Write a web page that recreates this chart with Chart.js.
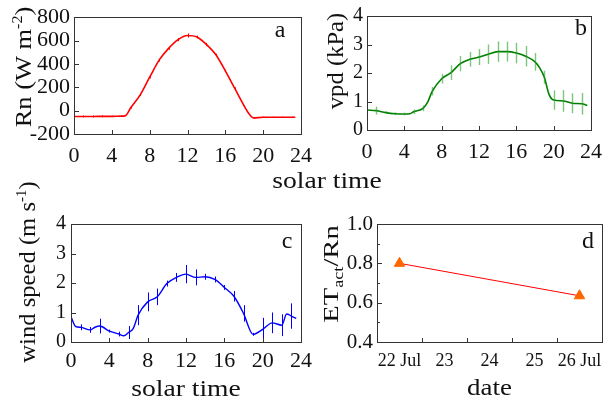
<!DOCTYPE html>
<html>
<head>
<meta charset="utf-8">
<script src="https://cdn.jsdelivr.net/npm/chart.js@4.4.1/dist/chart.umd.min.js"></script>
<style>
  html, body { margin: 0; padding: 0; background: #fff; }
  #wrap { position: relative; width: 611px; height: 401px; overflow: hidden; }
  #wrap canvas { position: absolute; left: 0; top: 0; }
</style>
</head>
<body>
<div id="wrap">
  <canvas id="cA" width="611" height="401"></canvas>
  <canvas id="cB" width="611" height="401"></canvas>
  <canvas id="cC" width="611" height="401"></canvas>
  <canvas id="cD" width="611" height="401"></canvas>
</div>
<script>
/* ---------- data ---------- */
const hourTicks = [0, 4, 8, 12, 16, 20, 24];

// a : net radiation
const rnHours  = [0, 1, 2, 3, 4, 5, 5.4, 6, 7, 8, 9, 10, 11, 12, 13, 14, 15, 16, 17, 18, 18.5, 19, 20, 21, 22, 23, 23.4];
const rnValues = [-50, -50, -50, -49, -49, -47, -45, 25, 135, 286, 432, 533, 608, 643, 630, 566, 478, 341, 190, 39, -27, -62, -57, -57, -57, -57, -57];
const rnErrors = [0, 8, 8, 8, 6, 6, 0, 8, 10, 10, 12, 12, 14, 18, 12, 14, 10, 10, 10, 8, 0, 6, 6, 6, 6, 6, 0];
const rnTicks  = [-200, 0, 200, 400, 600, 800];

// b : vapour pressure deficit
const vpdHours  = [0, 1, 2, 3, 4, 4.6, 5, 6, 6.5, 7, 8, 9, 10, 11, 12, 13, 14, 15, 16, 17, 18, 18.5, 19, 19.5, 20, 21, 22, 23, 23.6];
const vpdValues = [0.70, 0.68, 0.61, 0.57, 0.56, 0.57, 0.64, 0.76, 0.98, 1.36, 1.80, 2.01, 2.33, 2.48, 2.56, 2.66, 2.75, 2.75, 2.70, 2.59, 2.39, 2.18, 1.85, 1.25, 1.05, 1.02, 0.94, 0.92, 0.86];
const vpdErrors = [0, 0.14, 0.05, 0.05, 0.05, 0, 0.08, 0.10, 0, 0.15, 0.17, 0.26, 0.27, 0.26, 0.28, 0.34, 0.36, 0.35, 0.36, 0.36, 0.31, 0, 0.23, 0, 0.34, 0.38, 0.35, 0.38, 0];
const vpdTicks  = [0, 1, 2, 3, 4];

// c : wind speed
const windHours  = [0, 0.5, 1, 2, 2.5, 3, 4, 5, 5.5, 6, 6.5, 7, 8, 9, 10, 11, 12, 13, 14, 15, 16, 17, 18, 19, 20, 21, 22, 22.5, 23, 23.5];
const windValues = [0.85, 0.52, 0.50, 0.41, 0.50, 0.54, 0.37, 0.27, 0.21, 0.32, 0.46, 0.91, 1.36, 1.53, 1.98, 2.19, 2.30, 2.19, 2.21, 2.12, 1.85, 1.55, 0.97, 0.26, 0.43, 0.65, 0.57, 0.95, 0.88, 0.80];
const windErrors = [0, 0, 0.10, 0.10, 0, 0.25, 0.05, 0.08, 0, 0.22, 0, 0.34, 0.32, 0.28, 0.10, 0.15, 0.31, 0.27, 0.10, 0.10, 0.08, 0.18, 0.28, 0.05, 0.39, 0.35, 0.37, 0, 0.43, 0];
const windTicks  = [0, 1, 2, 3, 4];

// d : ETact / Rn per day
const ratioDates  = [22.5, 26.5];
const ratioValues = [0.80, 0.635];
const ratioTicks  = [0.4, 0.6, 0.8, 1.0];
const ratioMinor  = [0.5, 0.7, 0.9];
const dateTickPos    = [22.5, 23.5, 24.5, 25.5, 26.5];
const dateTickLabels = ['22 Jul', '23', '24', '25', '26 Jul'];
const dayBounds      = [22, 23, 24, 25, 26, 27];

/* ---------- helpers ---------- */
const SERIF = '"Liberation Serif", "Times New Roman", serif';
Chart.defaults.font.family = SERIF;
Chart.defaults.color = '#111';

const W = 611, H = 401, Y_W = 60, X_H = 30;

function pts(xs, ys) { return xs.map((x, i) => ({ x: x, y: ys[i] })); }

function drawRich(ctx, parts, stretch) {
  let total = 0;
  const widths = parts.map(p => {
    ctx.font = p.s + 'px ' + SERIF;
    const w = ctx.measureText(p.t).width;
    total += w;
    return w;
  });
  ctx.save();
  ctx.scale(stretch, 1);
  let x = -total / 2;
  parts.forEach((p, i) => {
    ctx.font = p.s + 'px ' + SERIF;
    ctx.fillText(p.t, x, p.dy || 0);
    x += widths[i];
  });
  ctx.restore();
}

// frame, inward tick marks, error bars and titles
const panelPlugin = {
  id: 'panel',
  afterDatasetsDraw(chart, args, o) {
    const ctx = chart.ctx, a = chart.chartArea;
    const xs = chart.scales.x, ys = chart.scales.y;

    // error bars
    chart.data.datasets.forEach(ds => {
      if (!ds.errs) return;
      ctx.save();
      ctx.strokeStyle = ds.errColor;
      ctx.lineWidth = ds.errWidth || 1;
      ds.data.forEach((p, i) => {
        const e = ds.errs[i];
        if (!e) return;
        const px = Math.round(xs.getPixelForValue(p.x)) + 0.5;
        ctx.beginPath();
        ctx.moveTo(px, ys.getPixelForValue(p.y - e));
        ctx.lineTo(px, ys.getPixelForValue(p.y + e));
        ctx.stroke();
      });
      ctx.restore();
    });

    // frame
    ctx.save();
    ctx.strokeStyle = '#333';
    ctx.lineWidth = 1;
    ctx.strokeRect(Math.round(a.left) + 0.5, Math.round(a.top) + 0.5,
                   Math.round(a.width), Math.round(a.height));

    // tick marks pointing inward
    const xMarks = o.xMarks || xs.ticks.map(t => t.value);
    const yMarks = ys.ticks.map(t => t.value);
    ctx.beginPath();
    xMarks.forEach(v => {
      const px = Math.round(xs.getPixelForValue(v)) + 0.5;
      ctx.moveTo(px, a.bottom);
      ctx.lineTo(px, a.bottom - 4);
    });
    yMarks.forEach(v => {
      const py = Math.round(ys.getPixelForValue(v)) + 0.5;
      ctx.moveTo(a.left, py);
      ctx.lineTo(a.left + 5, py);
    });
    (o.yMinor || []).forEach(v => {
      const py = Math.round(ys.getPixelForValue(v)) + 0.5;
      ctx.moveTo(a.left, py);
      ctx.lineTo(a.left + 3, py);
    });
    ctx.stroke();

    // titles
    ctx.fillStyle = '#111';
    ctx.textAlign = 'left';
    ctx.textBaseline = 'alphabetic';
    (o.titles || []).forEach(t => {
      ctx.save();
      ctx.translate(t.x, t.y);
      if (t.rot) ctx.rotate(-Math.PI / 2);
      drawRich(ctx, t.parts, t.stretch || 1);
      ctx.restore();
    });
    ctx.restore();
  }
};

function axisX(min, max, tickVals, labelFn, size, pad) {
  return {
    type: 'linear', min: min, max: max,
    grid: { display: false, drawTicks: false, tickLength: 0 },
    border: { display: false },
    afterBuildTicks: s => { s.ticks = tickVals.map(v => ({ value: v })); },
    afterFit: s => { s.height = X_H; },
    ticks: { autoSkip: false, maxRotation: 0, padding: pad, font: { family: SERIF, size: size }, color: '#111', callback: labelFn }
  };
}
function axisY(min, max, tickVals, labelFn, size, pad) {
  return {
    type: 'linear', min: min, max: max,
    grid: { display: false, drawTicks: false, tickLength: 0 },
    border: { display: false },
    afterBuildTicks: s => { s.ticks = tickVals.map(v => ({ value: v })); },
    afterFit: s => { s.width = Y_W; },
    ticks: { autoSkip: false, padding: pad, font: { family: SERIF, size: size }, color: '#111', callback: labelFn }
  };
}
function pad(L, T, R, B) {
  return { left: L - Y_W, top: T, right: W - R, bottom: H - B - X_H };
}
function makeChart(id, area, datasets, x, y, panelOpts) {
  return new Chart(document.getElementById(id), {
    type: 'line',
    data: { datasets: datasets },
    options: {
      responsive: false, animation: false,
      layout: { padding: pad(area[0], area[1], area[2], area[3]) },
      scales: { x: x, y: y },
      plugins: { legend: { display: false }, tooltip: { enabled: false }, panel: panelOpts }
    },
    plugins: [panelPlugin]
  });
}

const num = v => String(v);

/* ---------- a ---------- */
makeChart('cA', [74, 13, 301, 134],
  [{ data: pts(rnHours, rnValues), borderColor: '#ff0000', borderWidth: 1.6, pointRadius: 0,
     cubicInterpolationMode: 'monotone', errs: rnErrors, errColor: '#ff0000' }],
  axisX(0, 24, hourTicks, num, 22, 9),
  axisY(-200, 800, rnTicks, num, 22, 4),
  { titles: [
      { rot: true, x: 31, y: 67, stretch: 1.15, parts: [{ t: 'Rn (W m', s: 23 }, { t: '-2', s: 14, dy: -9 }, { t: ')', s: 23 }] },
      { x: 327, y: 188, stretch: 1.2, parts: [{ t: 'solar time', s: 23 }] },
      { x: 280, y: 37, parts: [{ t: 'a', s: 24 }] }
  ] });

/* ---------- b ---------- */
makeChart('cB', [367, 13, 593, 130],
  [{ data: pts(vpdHours, vpdValues), borderColor: '#008000', borderWidth: 1.6, pointRadius: 0,
     cubicInterpolationMode: 'monotone', errs: vpdErrors, errColor: 'rgba(40,160,40,0.6)', errWidth: 1.4 }],
  axisX(0, 24, hourTicks, num, 22, 9),
  axisY(0, 4, vpdTicks, num, 20, 4),
  { titles: [
      { rot: true, x: 343, y: 61, stretch: 1.07, parts: [{ t: 'vpd (kPa)', s: 23 }] },
      { x: 581, y: 35, parts: [{ t: 'b', s: 24 }] }
  ] });

/* ---------- c ---------- */
makeChart('cC', [71, 224, 301, 342],
  [{ data: pts(windHours, windValues), borderColor: '#0000ff', borderWidth: 1.4, pointRadius: 0,
     cubicInterpolationMode: 'monotone', errs: windErrors, errColor: '#0000ff' }],
  axisX(0, 24, hourTicks, num, 22, 6),
  axisY(0, 4, windTicks, num, 20, 5),
  { titles: [
      { rot: true, x: 35, y: 272, stretch: 1.07, parts: [{ t: 'wind speed (m s', s: 23 }, { t: '-1', s: 14, dy: -9 }, { t: ')', s: 23 }] },
      { x: 186, y: 396, stretch: 1.2, parts: [{ t: 'solar time', s: 23 }] },
      { x: 287, y: 248, parts: [{ t: 'c', s: 24 }] }
  ] });

/* ---------- d ---------- */
makeChart('cD', [377, 224, 602, 342],
  [{ data: pts(ratioDates, ratioValues), borderColor: '#ff0000', borderWidth: 1, pointStyle: 'triangle',
     pointRadius: 6, pointBackgroundColor: '#ff6600', pointBorderColor: '#ff6600', tension: 0 }],
  axisX(22, 27, dateTickPos, (v, i) => dateTickLabels[i], 18, 8),
  axisY(0.4, 1.0, ratioTicks, v => v.toFixed(1), 21, 4),
  { xMarks: dayBounds, yMinor: ratioMinor, titles: [
      { rot: true, x: 338, y: 274, stretch: 1.3, parts: [{ t: 'ET', s: 22 }, { t: 'act', s: 14, dy: 5 }, { t: '/Rn', s: 22 }] },
      { x: 489.5, y: 395, stretch: 1.17, parts: [{ t: 'date', s: 23 }] },
      { x: 588, y: 248, parts: [{ t: 'd', s: 24 }] }
  ] });
</script>
</body>
</html>
